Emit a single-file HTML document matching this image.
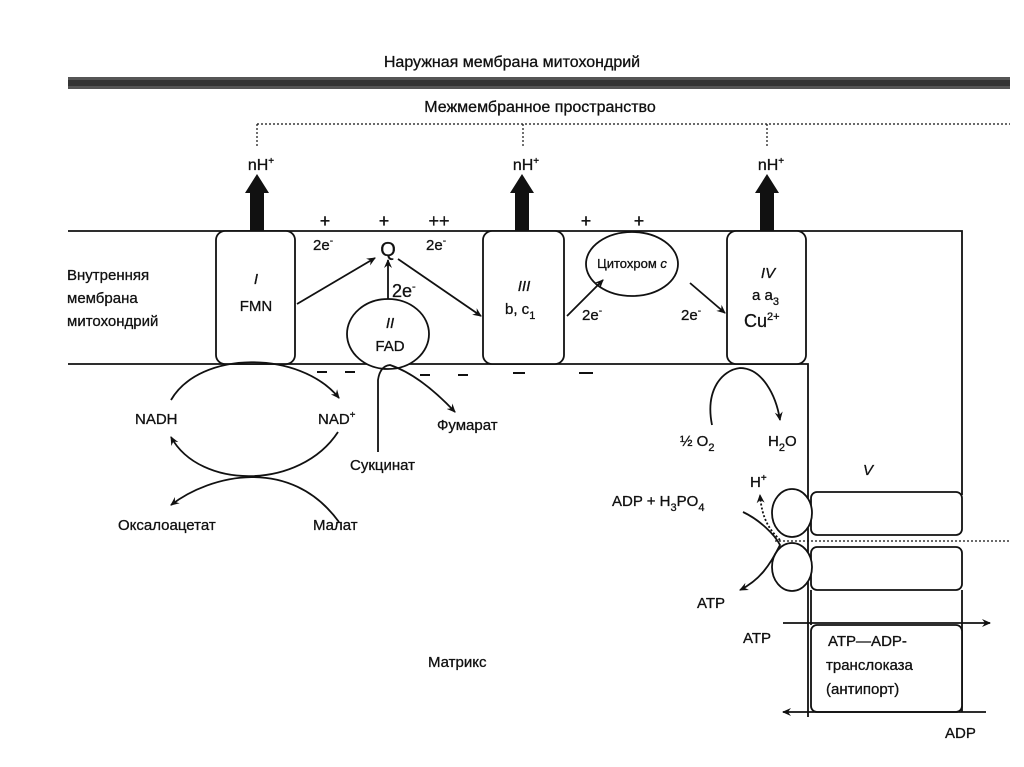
<!DOCTYPE html>
<html><head><meta charset="utf-8"><style>
html,body{margin:0;padding:0;background:#fff;}
svg{display:block;}
text{font-family:"Liberation Sans","DejaVu Sans",sans-serif;fill:#111;stroke:#111;stroke-width:0.3;}
</style></head><body>
<svg width="1024" height="767" viewBox="0 0 1024 767" xmlns="http://www.w3.org/2000/svg">
<defs>
<marker id="a" markerWidth="10" markerHeight="10" refX="8" refY="5" orient="auto" markerUnits="userSpaceOnUse">
<path d="M0,1 L9,5 L0,9 L3,5 Z" fill="#111"/></marker>
</defs>
<g stroke="#111" fill="none" stroke-width="1.8">
<rect x="68" y="77" width="942" height="12" fill="#555" stroke="none"/>
<rect x="68" y="80" width="942" height="6" fill="#333" stroke="none"/>
<path d="M257,124 H1010 M257,124 V148 M523,124 V148 M767,124 V148" stroke-dasharray="2,2" stroke-width="1.2"/>
<path d="M68,231 H962 V495"/>
<path d="M68,364 H808 V717"/>
<rect x="216" y="231" width="79" height="133" rx="9" fill="#fff"/>
<rect x="483" y="231" width="81" height="133" rx="9" fill="#fff"/>
<rect x="727" y="231" width="79" height="133" rx="9" fill="#fff"/>
<ellipse cx="388" cy="334" rx="41" ry="35" fill="#fff"/>
<ellipse cx="632" cy="264" rx="46" ry="32" fill="#fff"/>
<path d="M250,231 V193 H245 L257,174 L269,193 H264 V231 Z" fill="#111" stroke="none"/>
<path d="M515,231 V193 H510 L522,174 L534,193 H529 V231 Z" fill="#111" stroke="none"/>
<path d="M760,231 V193 H755 L767,174 L779,193 H774 V231 Z" fill="#111" stroke="none"/>
<path d="M297,304 L375,258" marker-end="url(#a)"/>
<path d="M388,299 V260" marker-end="url(#a)"/>
<path d="M398,259 L481,316" marker-end="url(#a)"/>
<path d="M567,316 L603,280" marker-end="url(#a)"/>
<path d="M690,283 L725,313" marker-end="url(#a)"/>
<path d="M171,400 C200,350 300,350 339,398" marker-end="url(#a)"/>
<path d="M338,432 C300,490 200,490 171,437" marker-end="url(#a)"/>
<path d="M339,522 C290,455 210,475 171,505" marker-end="url(#a)"/>
<path d="M378,452 V380 Q380,366 390,365 Q420,375 455,412" marker-end="url(#a)"/>
<path d="M712,425 C705,390 722,370 740,368 C762,368 776,395 780,420" marker-end="url(#a)"/>
<rect x="811" y="492" width="151" height="43" rx="6" fill="#fff"/>
<rect x="811" y="547" width="151" height="43" rx="6" fill="#fff"/>
<ellipse cx="792" cy="513" rx="20" ry="24" fill="#fff"/>
<ellipse cx="792" cy="567" rx="20" ry="24" fill="#fff"/>
<path d="M775,541 H1010" stroke-dasharray="2,2" stroke-width="1.2"/>
<path d="M743,512 C760,520 775,535 780,545 C770,565 760,580 740,590" marker-end="url(#a)"/>
<path d="M780,540 C770,530 762,520 760,495" stroke-dasharray="2,2" marker-end="url(#a)"/>
<path d="M962,590 V712 M811,590 V625"/>
<rect x="811" y="625" width="151" height="87" rx="6" fill="#fff"/>
<path d="M783,623 H990" marker-end="url(#a)"/>
<path d="M986,712 H783" marker-end="url(#a)"/>
</g>
<g stroke="#111" stroke-width="2">
<path d="M317,372h10M345,372h10M420,375h10M458,375h10M513,373h12M579,373h14"/>
</g>
<g font-size="15">
<text x="512" y="67" text-anchor="middle" font-size="16">Наружная мембрана митохондрий</text>
<text x="540" y="112" text-anchor="middle" font-size="16">Межмембранное пространство</text>
<text x="261" y="170" text-anchor="middle" font-size="16">nH<tspan dy="-6" font-size="10">+</tspan></text>
<text x="526" y="170" text-anchor="middle" font-size="16">nH<tspan dy="-6" font-size="10">+</tspan></text>
<text x="771" y="170" text-anchor="middle" font-size="16">nH<tspan dy="-6" font-size="10">+</tspan></text>
<text x="325" y="227" text-anchor="middle" font-size="18">+</text>
<text x="384" y="227" text-anchor="middle" font-size="18">+</text>
<text x="439" y="227" text-anchor="middle" font-size="18">++</text>
<text x="586" y="227" text-anchor="middle" font-size="18">+</text>
<text x="639" y="227" text-anchor="middle" font-size="18">+</text>
<text x="313" y="250">2e<tspan dy="-6" font-size="10">-</tspan></text>
<text x="426" y="250">2e<tspan dy="-6" font-size="10">-</tspan></text>
<text x="388" y="256" text-anchor="middle" font-size="20">Q</text>
<text x="392" y="297" font-size="18">2e<tspan dy="-7" font-size="11">-</tspan></text>
<text x="67" y="280">Внутренняя</text>
<text x="67" y="303">мембрана</text>
<text x="67" y="326">митохондрий</text>
<text x="256" y="284" text-anchor="middle" font-style="italic">I</text>
<text x="256" y="311" text-anchor="middle">FMN</text>
<text x="390" y="328" text-anchor="middle" font-style="italic">II</text>
<text x="390" y="351" text-anchor="middle">FAD</text>
<text x="524" y="291" text-anchor="middle" font-style="italic">III</text>
<text x="505" y="314">b, c<tspan dy="5" font-size="11">1</tspan></text>
<text x="632" y="268" text-anchor="middle" font-size="13">Цитохром <tspan font-style="italic">c</tspan></text>
<text x="582" y="320">2e<tspan dy="-6" font-size="10">-</tspan></text>
<text x="681" y="320">2e<tspan dy="-6" font-size="10">-</tspan></text>
<text x="768" y="278" text-anchor="middle" font-style="italic">IV</text>
<text x="752" y="300">a  a<tspan dy="5" font-size="11">3</tspan></text>
<text x="744" y="327" font-size="18">Cu<tspan dy="-7" font-size="11">2+</tspan></text>
<text x="135" y="424">NADH</text>
<text x="318" y="424">NAD<tspan dy="-6" font-size="10">+</tspan></text>
<text x="437" y="430">Фумарат</text>
<text x="350" y="470">Сукцинат</text>
<text x="118" y="530">Оксалоацетат</text>
<text x="313" y="530">Малат</text>
<text x="680" y="446">½ O<tspan dy="5" font-size="11">2</tspan></text>
<text x="768" y="446">H<tspan dy="5" font-size="11">2</tspan><tspan dy="-5">O</tspan></text>
<text x="863" y="475" font-style="italic">V</text>
<text x="750" y="487">H<tspan dy="-6" font-size="10">+</tspan></text>
<text x="612" y="506">ADP + H<tspan dy="5" font-size="11">3</tspan><tspan dy="-5">PO</tspan><tspan dy="5" font-size="11">4</tspan></text>
<text x="697" y="608">ATP</text>
<text x="743" y="643">ATP</text>
<text x="828" y="646">ATP—ADP-</text>
<text x="826" y="670">транслоказа</text>
<text x="826" y="694">(антипорт)</text>
<text x="945" y="738">ADP</text>
<text x="428" y="667">Матрикс</text>
</g>
</svg>
</body></html>
